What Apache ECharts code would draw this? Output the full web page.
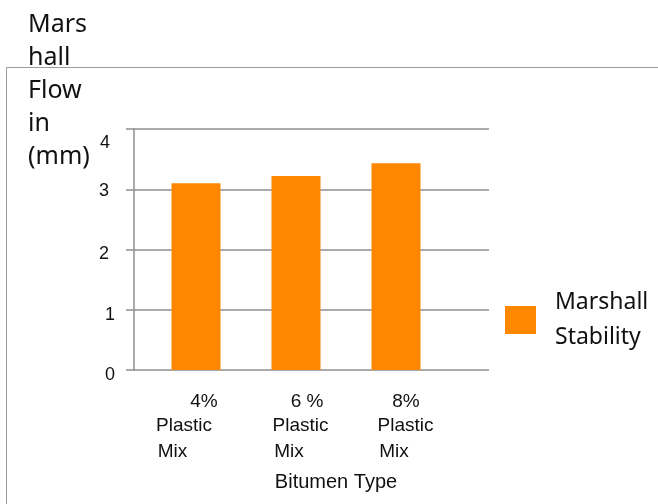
<!DOCTYPE html>
<html>
<head>
<meta charset="utf-8">
<script src="https://cdn.jsdelivr.net/npm/echarts@6/dist/echarts.min.js"></script>
<style>html,body{margin:0;padding:0;background:#fff;}#c{width:658px;height:504px;}</style>
</head>
<body>
<div id="c"></div>
<script>
const categories = ['4%\nPlastic\nMix', '6 %\nPlastic\nMix', '8%\nPlastic\nMix'];
const values = [3.1, 3.22, 3.43];
const seriesName = 'Marshall Stability';
const yTitle = 'Mars\nhall\nFlow\nin\n(mm)';
const xTitle = 'Bitumen Type';
const yMin = 0, yMax = 4, yStep = 1;

const chart = echarts.init(document.getElementById('c'));
const lab = 'Liberation Sans, Arial, sans-serif';
const hum = 'Noto Sans, Open Sans, sans-serif';
const grey = '#8f8f8f';

// per-label line offsets (visual placement only)
const xPad = [
  [[0,0,0,16],[0,24,0,0],[0,47,0,0]],
  [[0,0,0,22],[0,0,0,9],[0,14,0,0]],
  [[0,0,0,20],[0,0,0,19],[0,4,0,0]]
];
const xRich = {};
xPad.forEach((pads, i) => {
  ['p','a','b'].forEach((k, j) => {
    xRich[k + i] = {fontFamily: lab, fontSize: 19, color: '#111', lineHeight: j === 0 ? 22 : 26, padding: pads[j]};
  });
});
const yPad = {0:[10,0,0,0],1:[11,0,0,0],2:[9,6,0,0],3:[3,6,0,0],4:[28,5,0,0]};
const yRich = {};
Object.keys(yPad).forEach(v => {
  yRich['v' + v] = {fontFamily: lab, fontSize: 18, color: '#111', padding: yPad[v]};
});

chart.setOption({
  animation: false,
  backgroundColor: '#fff',
  graphic: [{
    type: 'rect', z: -10, silent: true,
    shape: {x: 6.5, y: 67.5, width: 700, height: 500},
    style: {fill: 'none', stroke: '#9a9a9a', lineWidth: 1}
  }],
  title: {
    text: yTitle, left: 28, top: 8, padding: 0,
    textStyle: {fontFamily: hum, fontSize: 25, fontWeight: 'normal', color: '#111', lineHeight: 33}
  },
  legend: {
    left: 505, top: 274, padding: 0,
    itemWidth: 31, itemHeight: 28, icon: 'rect',
    formatter: n => n.replace(' ', '\n'),
    textStyle: {fontFamily: hum, fontSize: 23, color: '#111', lineHeight: 35, padding: [22, 0, 0, 14]}
  },
  grid: [
    {left: 146, width: 300, top: 129, height: 241},
    {left: 134, width: 355, top: 129, height: 241}
  ],
  xAxis: [
    {
      type: 'category', gridIndex: 0, data: categories,
      axisLine: {show: false}, axisTick: {show: false},
      axisLabel: {
        margin: 21, interval: 0, rich: xRich,
        formatter: (v, i) => {
          const parts = v.split('\n');
          return '{p' + i + '|' + parts[0] + '}\n{a' + i + '|' + parts[1] + '}\n{b' + i + '|' + parts[2] + '}';
        }
      }
    },
    {
      type: 'value', gridIndex: 1, min: 0, max: 1,
      axisLine: {show: false}, axisTick: {show: false}, axisLabel: {show: false}, splitLine: {show: false},
      name: xTitle, nameLocation: 'middle', nameGap: 102,
      nameTextStyle: {fontFamily: lab, fontSize: 20, color: '#111', padding: [0, 0, 0, 49]}
    }
  ],
  yAxis: [
    {type: 'value', gridIndex: 0, min: yMin, max: yMax, interval: yStep, show: false, splitLine: {show: false}},
    {
      type: 'value', gridIndex: 1, min: yMin, max: yMax, interval: yStep,
      axisLine: {show: true, lineStyle: {color: grey, width: 1.5}},
      axisTick: {show: true, length: 8, lineStyle: {color: grey, width: 1.5}},
      splitLine: {show: true, lineStyle: {color: grey, width: 1.5}},
      axisLabel: {margin: 19, rich: yRich, formatter: v => '{v' + v + '|' + v + '}'}
    }
  ],
  series: [{
    name: seriesName, type: 'bar', xAxisIndex: 0, yAxisIndex: 0,
    data: values, barWidth: 49, itemStyle: {color: '#FF8800'}
  }]
});
</script>
</body>
</html>
